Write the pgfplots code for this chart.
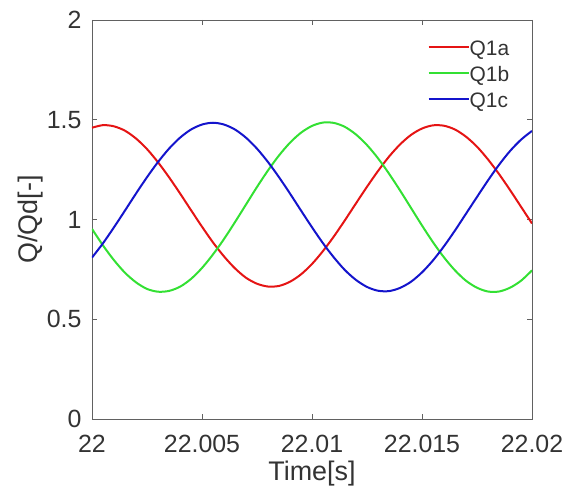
\documentclass[border=0pt]{standalone}
\usepackage{pgfplots}
\pgfplotsset{compat=1.18}
\usepackage{fontspec}
\setmainfont{Liberation Sans}

\definecolor{qa}{rgb}{0.90,0.08,0.08}
\definecolor{qb}{rgb}{0.20,0.88,0.20}
\definecolor{qc}{rgb}{0.08,0.08,0.80}
\definecolor{axgray}{rgb}{0.38,0.38,0.38}

\begin{document}
\begin{tikzpicture}
\begin{axis}[
  name=ax,
  scale only axis,
  width=440bp, height=399bp,
  xmin=22, xmax=22.02, ymin=0, ymax=2,
  xtick={22,22.005,22.01,22.015,22.02},
  xticklabels={22,22.005,22.01,22.015,22.02},
  ytick={0,0.5,1,1.5,2},
  yticklabels={0,0.5,1,1.5,2},
  tick align=inside,
  major tick length=5bp,
  axis line style={axgray, line width=0.9bp},
  every tick/.style={axgray, line width=0.9bp},
  tick label style={font=\fontsize{25}{29}\selectfont, text=black!80},
  xticklabel style={yshift=-13bp},
  yticklabel style={xshift=-7bp},
  label style={font=\fontsize{27}{31}\selectfont, text=black!80},
  xlabel={Time[s]},
  ylabel={Q/Qd[-]},
  xlabel style={yshift=-1bp},
  ylabel style={yshift=-3bp},
  legend style={draw=none, fill=none,
    font=\fontsize{21}{24}\selectfont, text=black!80,
    at={(0.76,0.955)}, anchor=north west,
    nodes={inner sep=0pt, text height=16bp, text depth=0bp},
    row sep=10bp, inner sep=1bp},
  legend cell align=left,
  legend image code/.code={\draw[#1] (0bp,0bp) -- (40bp,0bp);},
  every axis plot/.append style={line width=2bp, smooth},
]
% Q1a
\addplot[qa] coordinates {
(22.0000,1.460) (22.0005,1.473) (22.0010,1.467) (22.0015,1.445) (22.0020,1.406)
(22.0025,1.353) (22.0030,1.287) (22.0035,1.212) (22.0040,1.131) (22.0045,1.047)
(22.0050,0.964) (22.0055,0.885) (22.0060,0.815) (22.0065,0.755) (22.0070,0.708)
(22.0075,0.678) (22.0080,0.664) (22.0085,0.667) (22.0090,0.688) (22.0095,0.725)
(22.0100,0.777) (22.0105,0.842) (22.0110,0.916) (22.0115,0.997) (22.0120,1.081)
(22.0125,1.164) (22.0130,1.243) (22.0135,1.315) (22.0140,1.376) (22.0145,1.424)
(22.0150,1.456) (22.0155,1.472) (22.0160,1.470) (22.0165,1.451) (22.0170,1.415)
(22.0175,1.365) (22.0180,1.301) (22.0185,1.228) (22.0190,1.148) (22.0195,1.064)
(22.0200,0.980)};
\addlegendentry{Q1a}
% Q1b
\addplot[qb] coordinates {
(22.0000,0.953) (22.0005,0.870) (22.0010,0.796) (22.0015,0.733) (22.0020,0.685)
(22.0025,0.652) (22.0030,0.638) (22.0035,0.642) (22.0040,0.663) (22.0045,0.702)
(22.0050,0.757) (22.0055,0.825) (22.0060,0.902) (22.0065,0.987) (22.0070,1.075)
(22.0075,1.163) (22.0080,1.246) (22.0085,1.321) (22.0090,1.385) (22.0095,1.435)
(22.0100,1.469) (22.0105,1.486) (22.0110,1.484) (22.0115,1.464) (22.0120,1.426)
(22.0125,1.373) (22.0130,1.307) (22.0135,1.230) (22.0140,1.146) (22.0145,1.058)
(22.0150,0.970) (22.0155,0.886) (22.0160,0.810) (22.0165,0.745) (22.0170,0.693)
(22.0175,0.658) (22.0180,0.639) (22.0185,0.639) (22.0190,0.658) (22.0195,0.693)
(22.0200,0.745)};
\addlegendentry{Q1b}
% Q1c
\addplot[qc] coordinates {
(22.0000,0.809) (22.0005,0.881) (22.0010,0.961) (22.0015,1.045) (22.0020,1.130)
(22.0025,1.212) (22.0030,1.288) (22.0035,1.355) (22.0040,1.410) (22.0045,1.451)
(22.0050,1.476) (22.0055,1.485) (22.0060,1.476) (22.0065,1.451) (22.0070,1.410)
(22.0075,1.355) (22.0080,1.288) (22.0085,1.212) (22.0090,1.130) (22.0095,1.045)
(22.0100,0.961) (22.0105,0.881) (22.0110,0.809) (22.0115,0.746) (22.0120,0.697)
(22.0125,0.662) (22.0130,0.643) (22.0135,0.641) (22.0140,0.657) (22.0145,0.688)
(22.0150,0.735) (22.0155,0.795) (22.0160,0.866) (22.0165,0.945) (22.0170,1.029)
(22.0175,1.113) (22.0180,1.196) (22.0185,1.274) (22.0190,1.343) (22.0195,1.400)
(22.0200,1.444)};
\addlegendentry{Q1c}
\end{axis}
\pgfresetboundingbox
\useasboundingbox ([xshift=-92bp,yshift=-71bp]ax.south west) rectangle ([xshift=37bp,yshift=20bp]ax.north east);
\end{tikzpicture}
\end{document}
